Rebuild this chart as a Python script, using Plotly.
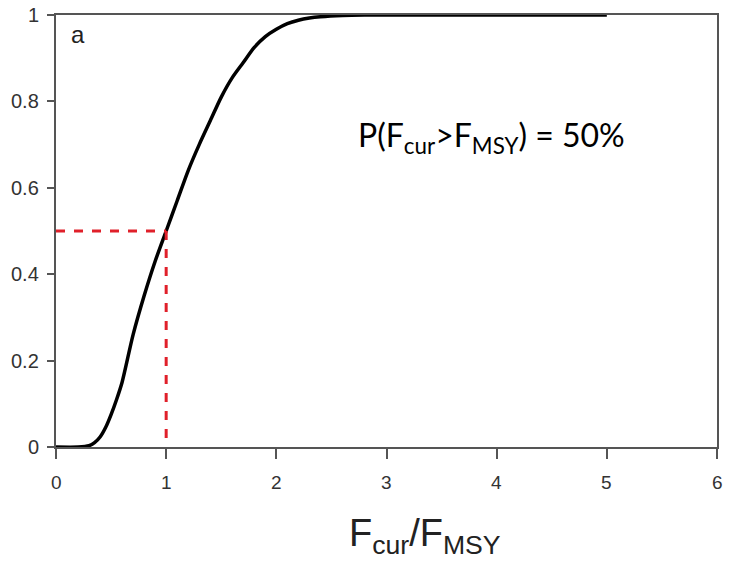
import plotly.graph_objects as go

# CDF of Fcur/Fmsy
ratio = [0.0, 0.2, 0.3, 0.35, 0.4, 0.45, 0.5, 0.55, 0.6, 0.7, 0.8, 0.9, 1.0, 1.1, 1.2, 1.3, 1.4, 1.5, 1.6, 1.7, 1.8, 1.9, 2.0, 2.1, 2.2, 2.3, 2.4, 2.6, 2.8, 3.0, 4.0, 5.0]
prob = [0.0, 0.0, 0.003, 0.01, 0.023, 0.045, 0.075, 0.11, 0.15, 0.26, 0.35, 0.43, 0.50, 0.57, 0.64, 0.70, 0.755, 0.81, 0.855, 0.89, 0.925, 0.95, 0.967, 0.98, 0.988, 0.993, 0.996, 0.999, 1.0, 1.0, 1.0, 1.0]

ref_x = 1.0
ref_p = 0.5

x_ticks = [0, 1, 2, 3, 4, 5, 6]
x_tick_text = ["0", "1", "2", "3", "4", "5", "6"]
y_ticks = [0, 0.2, 0.4, 0.6, 0.8, 1]
y_tick_text = ["0", "0.2", "0.4", "0.6", "0.8", "1"]

fig = go.Figure()
fig.add_trace(go.Scatter(x=ratio, y=prob, mode="lines",
                         line=dict(color="black", width=3.5, shape="spline", smoothing=0.8),
                         showlegend=False))
fig.add_trace(go.Scatter(x=[0, ref_x], y=[ref_p, ref_p], mode="lines",
                         line=dict(color="#e0202a", width=3, dash="dash"), showlegend=False))
fig.add_trace(go.Scatter(x=[ref_x, ref_x], y=[ref_p, 0], mode="lines",
                         line=dict(color="#e0202a", width=3, dash="dash"), showlegend=False))

fig.update_layout(
    template="none",
    width=731, height=562,
    margin=dict(l=56, r=14, t=15, b=115),
    paper_bgcolor="white", plot_bgcolor="white",
    font=dict(family="Arial", color="#222", size=19),
)
fig.update_xaxes(range=[0, 6], tickmode="array", tickvals=x_ticks, showticklabels=False,
                 showgrid=False, zeroline=False,
                 showline=True, linecolor="#555", linewidth=2, mirror=True,
                 ticks="outside", ticklen=10, tickcolor="#555", tickwidth=1.5)
fig.update_yaxes(range=[0, 1], tickmode="array", tickvals=y_ticks, showticklabels=False,
                 showgrid=False, zeroline=False,
                 showline=True, linecolor="#555", linewidth=2, mirror=True,
                 ticks="outside", ticklen=7, tickcolor="#555", tickwidth=1.5)

# tick labels placed at the axes' own data coordinates
for v, t in zip(x_ticks, x_tick_text):
    fig.add_annotation(x=v, xref="x", y=0, yref="paper", yshift=-35, text=t,
                       showarrow=False, xanchor="center", yanchor="middle",
                       font=dict(size=19, family="Arial", color="#333"))
for v, t in zip(y_ticks, y_tick_text):
    fig.add_annotation(x=0, xref="paper", y=v, yref="y", xshift=-15, text=t,
                       showarrow=False, xanchor="right", yanchor="middle",
                       font=dict(size=20, family="Arial", color="#333"))

fig.add_annotation(x=0.019, y=0.99, xref="paper", yref="paper", text="a",
                   showarrow=False, xanchor="left", yanchor="top",
                   font=dict(size=24, family="Arial", color="#222"))
fig.add_annotation(x=(356 - 56) / 661, y=(447 - 137) / 432, xref="paper", yref="paper",
                   text="P(F<sub>cur</sub>&gt;F<sub>MSY</sub>) = 50%",
                   showarrow=False, xanchor="left", yanchor="middle",
                   font=dict(size=32, family="Lato", color="black"))
fig.add_annotation(x=(425 - 56) / 661, y=-0.205, xref="paper", yref="paper",
                   text="F<sub>cur</sub>/F<sub>MSY</sub>",
                   showarrow=False, xanchor="center", yanchor="middle",
                   font=dict(size=38, family="Arial", color="#222"))

fig.write_html("out.html")
